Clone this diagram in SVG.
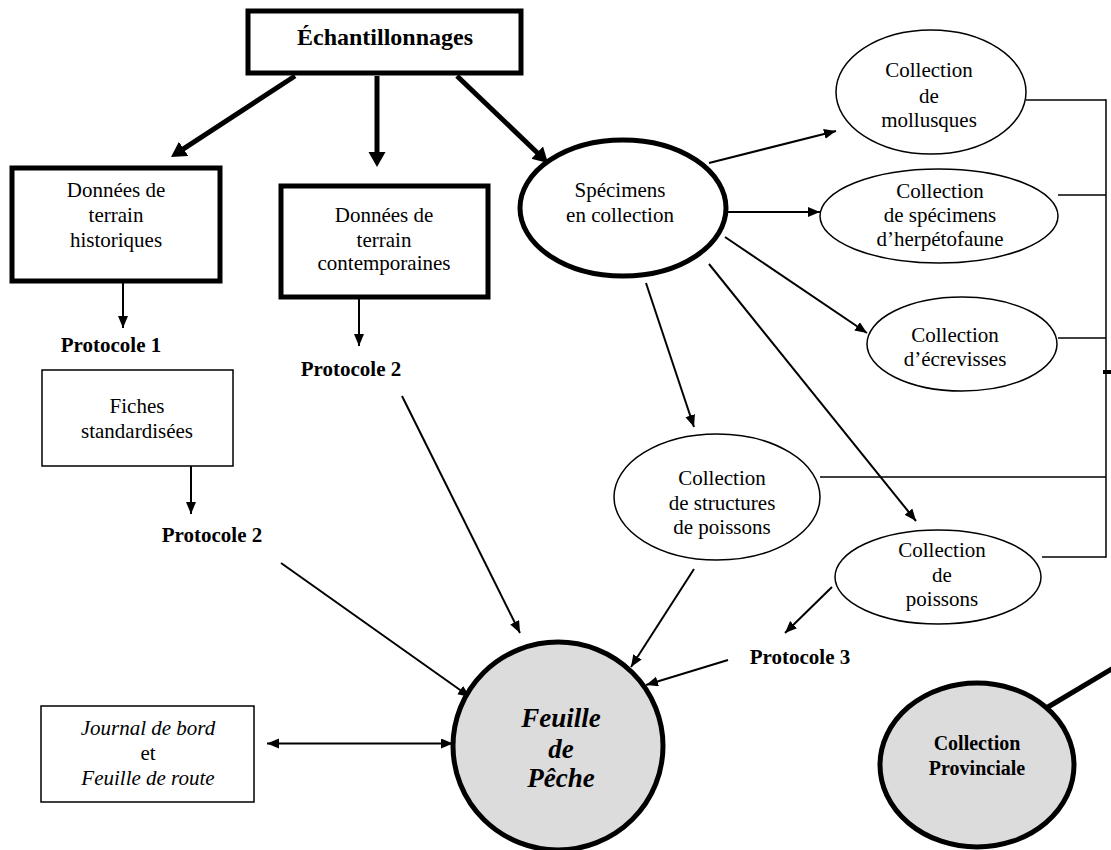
<svg xmlns="http://www.w3.org/2000/svg" width="1111" height="850" viewBox="0 0 1111 850">
<defs>
<style>
text{font-family:"Liberation Serif","Times New Roman",serif;font-size:21px;fill:#000;text-anchor:middle}
.b{font-weight:bold}
.i{font-style:italic}
.thick{fill:#fff;stroke:#000;stroke-width:5}
.thin{fill:#fff;stroke:#000;stroke-width:1.5}
.grey{fill:#dcdcdc;stroke:#000;stroke-width:5}
.arr{stroke:#000;stroke-width:2;fill:none;marker-end:url(#ah)}
.big{stroke:#000;stroke-width:5;fill:none;marker-end:url(#bh)}
.ln{stroke:#000;stroke-width:1.5;fill:none}
</style>
<marker id="ah" markerUnits="userSpaceOnUse" markerWidth="13" markerHeight="11" refX="12" refY="5" orient="auto-start-reverse">
<path d="M0,0 L12,5 L0,10 z" fill="#000"/>
</marker>
<marker id="bh" markerUnits="userSpaceOnUse" markerWidth="16" markerHeight="18" refX="2" refY="8.5" orient="auto">
<path d="M0,0 L15,8.5 L0,17 z" fill="#000"/>
</marker>
</defs>
<g id="connectors">
<line class="big" x1="295" y1="76" x2="181.9" y2="149.9"/>
<line class="big" x1="377" y1="76" x2="377" y2="154"/>
<line class="big" x1="457" y1="76" x2="538.6" y2="154"/>
<line class="arr" x1="123" y1="281" x2="123" y2="328"/>
<line class="arr" x1="359" y1="298" x2="359" y2="346"/>
<line class="arr" x1="191" y1="466" x2="191" y2="514"/>
<line class="arr" x1="281" y1="563" x2="470" y2="697"/>
<line class="arr" x1="402" y1="396" x2="520" y2="633"/>
<line class="arr" x1="694" y1="569" x2="631" y2="667"/>
<line class="arr" x1="728" y1="660" x2="646" y2="685"/>
<line class="arr" x1="832" y1="587" x2="785" y2="633"/>
<line class="arr" x1="709" y1="163" x2="836" y2="131"/>
<line class="arr" x1="726" y1="212" x2="820" y2="212"/>
<line class="arr" x1="725" y1="237" x2="867" y2="333"/>
<line class="arr" x1="646" y1="283" x2="694" y2="427"/>
<line class="arr" x1="709" y1="264" x2="916" y2="521"/>
<line class="arr" x1="267" y1="743.5" x2="453" y2="743.5" style="marker-start:url(#ah)"/>
<line class="ln" x1="1026" y1="100" x2="1106" y2="100"/>
<line class="ln" x1="1058" y1="195" x2="1106" y2="195"/>
<line class="ln" x1="1058" y1="338" x2="1106" y2="338"/>
<line class="ln" x1="820" y1="477" x2="1106" y2="477"/>
<line class="ln" x1="1042" y1="557" x2="1106" y2="557"/>
<line class="ln" x1="1106" y1="99.3" x2="1106" y2="557.7"/>
<rect x="1103" y="370" width="8" height="4" fill="#000"/>
<line x1="1048" y1="707" x2="1120" y2="664" stroke="#000" stroke-width="5"/>
</g>
<g id="echantillonnages">
<rect class="thick" x="248" y="11" width="273" height="62"/>
<text class="b" x="385" y="45" style="font-size:24px">Échantillonnages</text>
</g>
<g id="historiques">
<rect class="thick" x="12" y="168" width="208" height="113"/>
<text x="116" y="197">Données de</text>
<text x="116" y="222">terrain</text>
<text x="116" y="247">historiques</text>
</g>
<g id="contemporaines">
<rect class="thick" x="281" y="186" width="207" height="111"/>
<text x="384" y="222">Données de</text>
<text x="384" y="247">terrain</text>
<text x="384" y="270">contemporaines</text>
</g>
<g id="protocole1"><text class="b" x="111" y="352">Protocole 1</text></g>
<g id="protocole2a"><text class="b" x="351" y="376">Protocole 2</text></g>
<g id="fiches">
<rect class="thin" x="42" y="370" width="191" height="96"/>
<text x="137" y="413">Fiches</text>
<text x="137" y="438">standardisées</text>
</g>
<g id="protocole2b"><text class="b" x="212" y="542">Protocole 2</text></g>
<g id="journal">
<rect class="thin" x="41" y="706" width="213" height="96"/>
<text class="i" x="148" y="735">Journal de bord</text>
<text x="148" y="760">et</text>
<text class="i" x="148" y="785">Feuille de route</text>
</g>
<g id="feuille">
<ellipse class="grey" cx="558" cy="746" rx="105" ry="104"/>
<text class="b i" x="561" y="727" style="font-size:27px">Feuille</text>
<text class="b i" x="561" y="758" style="font-size:27px">de</text>
<text class="b i" x="561" y="787" style="font-size:27px">Pêche</text>
</g>
<g id="specimens">
<ellipse class="thick" cx="623" cy="208" rx="103" ry="68"/>
<text x="620" y="197">Spécimens</text>
<text x="620" y="222">en collection</text>
</g>
<g id="mollusques">
<ellipse class="thin" cx="931" cy="92" rx="95" ry="62"/>
<text x="929" y="77">Collection</text>
<text x="929" y="103">de</text>
<text x="929" y="127">mollusques</text>
</g>
<g id="herpetofaune">
<ellipse class="thin" cx="939" cy="216" rx="119" ry="47"/>
<text x="940" y="198">Collection</text>
<text x="940" y="222">de spécimens</text>
<text x="940" y="246">d’herpétofaune</text>
</g>
<g id="ecrevisses">
<ellipse class="thin" cx="962" cy="344" rx="95" ry="47"/>
<text x="955" y="342">Collection</text>
<text x="955" y="366">d’écrevisses</text>
</g>
<g id="structures">
<ellipse class="thin" cx="717" cy="497" rx="103" ry="63"/>
<text x="722" y="485">Collection</text>
<text x="722" y="510">de structures</text>
<text x="722" y="534">de poissons</text>
</g>
<g id="poissons">
<ellipse class="thin" cx="938" cy="577" rx="103" ry="47"/>
<text x="942" y="557">Collection</text>
<text x="942" y="582">de</text>
<text x="942" y="606">poissons</text>
</g>
<g id="protocole3"><text class="b" x="800" y="664">Protocole 3</text></g>
<g id="provinciale">
<ellipse class="grey" cx="977" cy="765" rx="97" ry="82"/>
<text class="b" x="977" y="750" style="font-size:20px">Collection</text>
<text class="b" x="977" y="775" style="font-size:20px">Provinciale</text>
</g>
</svg>
